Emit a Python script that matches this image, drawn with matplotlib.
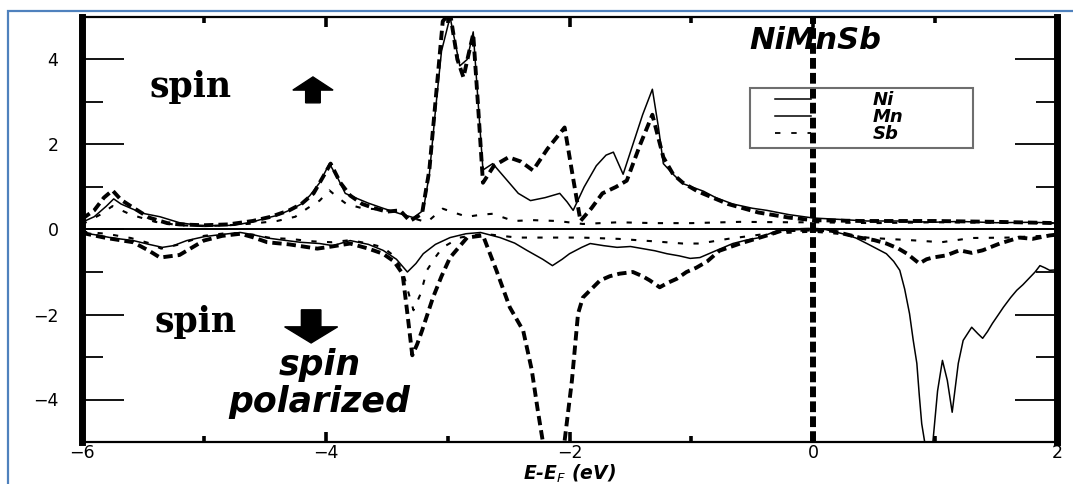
import matplotlib
matplotlib.use("Agg")
import matplotlib.pyplot as plt
from matplotlib.lines import Line2D
from matplotlib.patches import Rectangle
from matplotlib.ticker import MultipleLocator

# Partial DOS of NiMnSb, states/eV, spin up (positive) and spin down (negative)
ni_up_e = [-6.0, -5.9, -5.8, -5.74, -5.68, -5.6, -5.5, -5.36, -5.2, -5.05, -4.9, -4.75, -4.6, -4.5,
           -4.4, -4.3, -4.2, -4.13, -4.05, -3.97, -3.9, -3.84, -3.76, -3.65, -3.53, -3.39, -3.28,
           -3.2, -3.15, -3.1, -3.05, -2.98, -2.9, -2.84, -2.79, -2.75, -2.71, -2.63, -2.51, -2.42,
           -2.32, -2.2, -2.08, -2.02, -1.97, -1.88, -1.78, -1.7, -1.64, -1.56, -1.48, -1.4, -1.32,
           -1.27, -1.23, -1.15, -1.07, -0.9, -0.8, -0.66, -0.5, -0.38, -0.2, 0.0, 0.2, 0.44, 0.7,
           0.98, 1.2, 1.5, 1.8, 2.0]
ni_up = [0.17, 0.3, 0.55, 0.72, 0.6, 0.5, 0.38, 0.3, 0.16, 0.1, 0.09, 0.1, 0.18, 0.26,
         0.33, 0.45, 0.6, 0.8, 1.1, 1.55, 1.2, 0.85, 0.75, 0.62, 0.5, 0.37, 0.28,
         0.45, 1.3, 2.8, 4.2, 5.0, 3.85, 4.0, 4.65, 3.0, 1.4, 1.55, 1.15, 0.85,
         0.68, 0.75, 0.85, 0.65, 0.45, 1.0, 1.5, 1.75, 1.82, 1.3, 2.0, 2.7, 3.3,
         2.4, 1.55, 1.3, 1.08, 0.9, 0.75, 0.6, 0.5, 0.45, 0.35, 0.27, 0.24, 0.2, 0.2,
         0.17, 0.19, 0.16, 0.17, 0.15]

mn_up_e = [-6.0, -5.9, -5.82, -5.75, -5.68, -5.6, -5.45, -5.3, -5.2, -5.0, -4.8, -4.6, -4.45,
           -4.3, -4.2, -4.1, -3.96, -3.88, -3.8, -3.7, -3.6, -3.5, -3.39, -3.31, -3.21, -3.15,
           -3.1, -3.04, -2.98, -2.92, -2.87, -2.83, -2.79, -2.75, -2.71, -2.62, -2.5, -2.4, -2.3,
           -2.18, -2.04, -1.97, -1.91, -1.82, -1.73, -1.62, -1.53, -1.42, -1.32, -1.23, -1.15,
           -1.07, -0.95, -0.7, -0.45, -0.2, 0.0, 0.4, 1.0, 1.5, 2.0]
mn_up = [0.25, 0.45, 0.75, 0.92, 0.7, 0.55, 0.28, 0.15, 0.12, 0.1, 0.12, 0.2, 0.3,
         0.45, 0.6, 0.85, 1.55, 1.1, 0.8, 0.6, 0.5, 0.42, 0.45, 0.2, 0.37, 1.4,
         3.0, 4.9, 5.1, 4.0, 3.58, 4.1, 4.6, 2.9, 1.1, 1.5, 1.7, 1.6, 1.39,
         1.9, 2.4, 1.2, 0.2, 0.5, 0.85, 1.0, 1.15, 2.0, 2.7, 1.7, 1.3,
         1.1, 0.9, 0.6, 0.4, 0.28, 0.22, 0.2, 0.2, 0.18, 0.15]

sb_up_e = [-6.0, -5.85, -5.75, -5.6, -5.4, -5.2, -5.0, -4.8, -4.6, -4.4, -4.25, -4.15, -4.05,
           -3.97, -3.9, -3.83, -3.7, -3.55, -3.4, -3.3, -3.17, -3.04, -2.95, -2.84, -2.72, -2.63,
           -2.46, -2.3, -2.1, -1.89, -1.6, -1.3, -1.0, -0.6, -0.2, 0.0, 0.5, 1.0, 1.5, 2.0]
sb_up = [0.12, 0.35, 0.55, 0.35, 0.18, 0.1, 0.08, 0.1, 0.14, 0.2, 0.3, 0.5, 0.68,
         0.92, 0.75, 0.6, 0.5, 0.47, 0.4, 0.28, 0.17, 0.49, 0.4, 0.3, 0.35, 0.37,
         0.2, 0.22, 0.2, 0.13, 0.17, 0.15, 0.15, 0.18, 0.17, 0.17, 0.15, 0.17, 0.16, 0.15]

ni_dn_e = [-6.0, -5.9, -5.75, -5.58, -5.45, -5.34, -5.25, -5.14, -5.0, -4.92, -4.8, -4.7, -4.6,
           -4.48, -4.35, -4.21, -4.05, -3.94, -3.8, -3.65, -3.53, -3.42, -3.33, -3.26, -3.2, -3.1,
           -2.98, -2.85, -2.73, -2.57, -2.45, -2.35, -2.22, -2.14, -2.06, -2.0, -1.9, -1.83,
           -1.72, -1.61, -1.5, -1.4, -1.3, -1.2, -1.1, -1.01, -0.93, -0.8, -0.66, -0.55, -0.44,
           -0.3, -0.1, 0.1, 0.24, 0.35, 0.44, 0.52, 0.6, 0.66, 0.71, 0.75, 0.79, 0.82, 0.85,
           0.87, 0.89, 0.92, 0.98, 1.02, 1.06, 1.1, 1.14, 1.19, 1.23, 1.3, 1.35, 1.39, 1.43,
           1.47, 1.52, 1.56, 1.62, 1.67, 1.72, 1.78, 1.82, 1.86, 1.9, 1.94, 2.0]
ni_dn = [-0.08, -0.12, -0.2, -0.26, -0.35, -0.42, -0.38, -0.26, -0.17, -0.14, -0.1, -0.07, -0.12,
         -0.2, -0.25, -0.3, -0.33, -0.38, -0.26, -0.35, -0.49, -0.7, -1.0, -0.8, -0.57, -0.35,
         -0.19, -0.1, -0.07, -0.19, -0.32, -0.49, -0.7, -0.85, -0.7, -0.57, -0.42, -0.33,
         -0.38, -0.42, -0.4, -0.45, -0.5, -0.57, -0.62, -0.68, -0.66, -0.5, -0.33, -0.25, -0.19,
         -0.03, 0.0, 0.0, -0.1, -0.2, -0.33, -0.45, -0.57, -0.75, -0.96, -1.4, -1.98, -2.6, -3.15,
         -3.9, -4.57, -5.1, -5.05, -3.8, -3.08, -3.55, -4.3, -3.15, -2.61, -2.3, -2.45, -2.56, -2.4,
         -2.21, -2.0, -1.83, -1.6, -1.43, -1.3, -1.12, -1.0, -0.85, -0.9, -0.96, -0.95]

mn_dn_e = [-6.0, -5.8, -5.58, -5.45, -5.36, -5.2, -5.0, -4.85, -4.7, -4.6, -4.48, -4.3, -4.07,
           -3.95, -3.8, -3.65, -3.53, -3.44, -3.37, -3.33, -3.29, -3.25, -3.21, -3.12, -3.05,
           -2.98, -2.84, -2.71, -2.6, -2.49, -2.38, -2.31, -2.26, -2.22, -2.15, -2.09, -2.04,
           -1.98, -1.93, -1.89, -1.82, -1.75, -1.67, -1.59, -1.48, -1.4, -1.34, -1.26, -1.19,
           -1.12, -1.04, -0.96, -0.87, -0.77, -0.6, -0.38, -0.25, 0.0, 0.15, 0.38, 0.5, 0.6, 0.7,
           0.77, 0.87, 0.93, 0.98, 1.09, 1.2, 1.3, 1.39, 1.53, 1.69, 1.8, 1.94, 2.0]
mn_dn = [-0.08, -0.2, -0.3, -0.5, -0.66, -0.6, -0.26, -0.15, -0.1, -0.18, -0.3, -0.35, -0.45,
         -0.4, -0.33, -0.45, -0.57, -0.75, -1.04, -1.98, -2.96, -2.7, -2.38, -1.6, -1.1,
         -0.66, -0.19, -0.14, -0.96, -1.83, -2.38, -3.3, -4.26, -4.97, -5.4, -5.4, -4.97,
         -3.55, -1.98, -1.6, -1.4, -1.2, -1.1, -1.04, -1.0, -1.1, -1.2, -1.36, -1.25,
         -1.16, -1.0, -0.9, -0.75, -0.5, -0.33, -0.14, -0.02, 0.0, -0.03, -0.19, -0.25, -0.33, -0.45,
         -0.57, -0.8, -0.7, -0.66, -0.61, -0.49, -0.55, -0.49, -0.33, -0.19, -0.22, -0.14, -0.12]

sb_dn_e = [-6.0, -5.8, -5.6, -5.45, -5.35, -5.2, -5.0, -4.8, -4.6, -4.45, -4.3, -4.1, -3.95,
           -3.8, -3.65, -3.53, -3.45, -3.37, -3.32, -3.28, -3.22, -3.17, -3.1, -3.04, -2.9,
           -2.71, -2.43, -2.1, -1.9, -1.6, -1.3, -1.07, -0.93, -0.7, -0.38, 0.0, 0.2, 0.44,
           0.6, 0.85, 1.05, 1.3, 1.6, 1.94, 2.0]
sb_dn = [-0.05, -0.1, -0.2, -0.32, -0.45, -0.35, -0.15, -0.08, -0.12, -0.2, -0.22, -0.28, -0.3,
         -0.25, -0.33, -0.42, -0.6, -0.96, -1.5, -1.9, -1.5, -0.96, -0.65, -0.42, -0.19,
         -0.1, -0.19, -0.19, -0.19, -0.22, -0.28, -0.33, -0.33, -0.22, -0.1, -0.05, -0.1, -0.19,
         -0.22, -0.26, -0.3, -0.2, -0.19, -0.14, -0.12]

species = ["Ni", "Mn", "Sb"]
x_ticks = [-6, -4, -2, 0, 2]
y_ticks = [-4, -2, 0, 2, 4]

plt.rcParams["font.family"] = ["DejaVu Sans"]

NI_STYLE = dict(color="black", lw=1.1, ls="-")
MN_STYLE = dict(color="black", lw=2.8, ls=(0, (2.4, 1.3)))
SB_STYLE = dict(color="black", lw=1.5, ls=(0, (2.5, 5)))

fig = plt.figure(figsize=(10.73, 4.84), dpi=100)
ax = fig.add_axes([82 / 1073, 42 / 484, 975 / 1073, 425 / 484])

ax.plot(ni_up_e, ni_up, **NI_STYLE)
ax.plot(ni_dn_e, ni_dn, **NI_STYLE)
ax.plot(mn_up_e, mn_up, **MN_STYLE)
ax.plot(mn_dn_e, mn_dn, **MN_STYLE)
ax.plot(sb_up_e, sb_up, **SB_STYLE)
ax.plot(sb_dn_e, sb_dn, **SB_STYLE)

ax.axhline(0, color="black", lw=1.4)
ax.axvline(0, color="black", lw=4.3, ls=(0, (1.8, 0.7)))

ax.set_xlim(-6, 2)
ax.set_ylim(-5, 5)
ax.set_xticks(x_ticks)
ax.set_yticks(y_ticks)
ax.xaxis.set_minor_locator(MultipleLocator(1))
ax.yaxis.set_minor_locator(MultipleLocator(1))
ax.tick_params(axis="both", which="both", direction="in", top=True, right=True,
               labelsize=12.5, colors="black")
ax.tick_params(axis="y", which="major", length=30, width=1.3, pad=17)
ax.tick_params(axis="y", which="minor", length=15, width=1.3)
ax.tick_params(axis="x", which="major", length=7, width=2.6, pad=1.5)
ax.tick_params(axis="x", which="minor", length=4.5, width=2.6)

for side in ("left", "right"):
    ax.spines[side].set_linewidth(5)
for side in ("top", "bottom"):
    ax.spines[side].set_linewidth(1.6)

ax.set_xlabel(r"E-E$_F$ (eV)", fontsize=13.5, weight="bold", style="italic", labelpad=0.5)

# spin channel labels
ax.text(-5.11, 3.12, "spin", family="DejaVu Serif", weight="bold", fontsize=25,
        ha="center", va="baseline")
ax.arrow(-4.105, 2.98, 0, 0.61, width=0.12, head_width=0.33, head_length=0.31,
         length_includes_head=True, color="black")
ax.text(-5.07, -2.41, "spin", family="DejaVu Serif", weight="bold", fontsize=25,
        ha="center", va="baseline")
ax.arrow(-4.12, -1.89, 0, -0.78, width=0.16, head_width=0.435, head_length=0.38,
         length_includes_head=True, color="black")

ax.text(-4.05, -4.29, "spin\npolarized", fontsize=25, weight="bold", style="italic",
        ha="center", va="baseline", multialignment="center", linespacing=1.1)
ax.text(0.014, 4.25, "NiMnSb", fontsize=22, weight="bold", style="italic",
        ha="center", va="baseline")

# legend with its own frame
handles = [Line2D([], [], **NI_STYLE),
           Line2D([], [], color="black", lw=1.1),
           Line2D([], [], color="black", lw=1.3, ls=(0, (3, 6)))]
ax.legend(handles, species, loc="upper left", bbox_to_anchor=(0.711, 0.826),
          frameon=False, borderpad=0, borderaxespad=0, labelspacing=-0.05,
          handlelength=2.0, handletextpad=3.4,
          prop=dict(weight="bold", style="italic", size=13))
ax.add_patch(Rectangle((0.685, 0.692), 0.2287, 0.141, transform=ax.transAxes,
                       fill=False, edgecolor="#6e6e6e", lw=1.5, zorder=5))

# outer frame
fig.patches.append(Rectangle((8 / 1073, -0.1), 1.2, 1.1 - 11 / 484, transform=fig.transFigure,
                             fill=False, edgecolor="#4f81bd", lw=1.6))

fig.savefig("out.png", dpi=100, facecolor="white")
